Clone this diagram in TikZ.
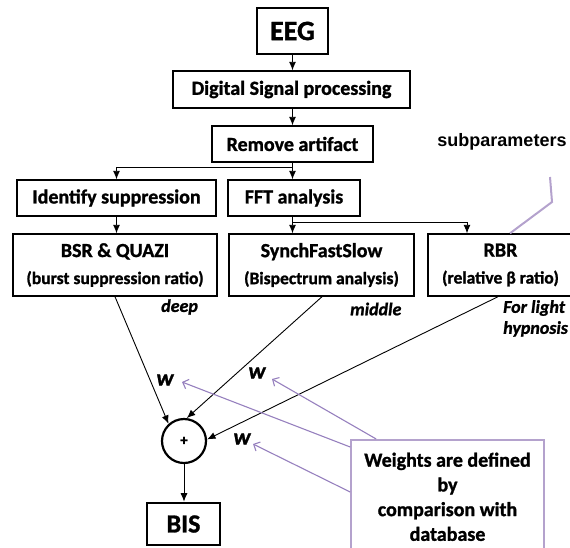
\documentclass[tikz,border=0pt]{standalone}
\usepackage{fontspec}
\setmainfont{Carlito}[BoldFeatures={FakeBold=1.2},BoldItalicFeatures={FakeBold=1.2}]
\newfontfamily\arialfam{Liberation Sans}
\usetikzlibrary{arrows.meta,calc}

\definecolor{lav}{RGB}{150,128,190}
\definecolor{lavlight}{RGB}{180,162,205}
\newcommand\smallline{\fontsize{17.5}{21}\selectfont}

\begin{document}
\begin{tikzpicture}[x=1pt,y=-1pt,
  box/.style={draw,line width=1.4pt,inner sep=0pt,align=center,
    font=\bfseries\fontsize{20}{24}\selectfont},
  heavybox/.style={box,line width=2.6pt},
  flow/.style={line width=0.9pt,-{Latex[length=8.5pt,width=7pt]}},
  wlabel/.style={font=\bfseries\itshape\fontsize{23}{26}\selectfont,inner sep=0pt},
  tag/.style={font=\bfseries\itshape\fontsize{18}{21}\selectfont,inner sep=0pt},
  weightarrow/.style={lav,line width=1.1pt,-{Straight Barb[length=5pt,width=10pt]}},
  callout/.style={lavlight,line width=2pt}
]
\useasboundingbox (0,0) rectangle (570,547);
\clip (0,0) rectangle (570,547);

% processing chain
\node[heavybox,minimum width=71pt,minimum height=46pt,
      font=\bfseries\fontsize{28}{30}\selectfont] (eeg) at (292.5,31) {EEG};
\node[box,minimum width=237pt,minimum height=37pt] (dsp) at (291.5,89.5) {Digital Signal processing};
\node[box,minimum width=161pt,minimum height=36pt] (rem) at (292.5,144) {Remove artifact};
\node[box,minimum width=199pt,minimum height=36pt] (ident) at (116.5,198) {Identify suppression};
\node[box,minimum width=132pt,minimum height=36pt] (fft) at (294,198) {FFT analysis};

% subparameters
\node[box,minimum width=204pt,minimum height=62pt] (bsr) at (115,265)
  {BSR \& QUAZI\\[3pt]{\smallline (burst suppression ratio)}};
\node[box,minimum width=185pt,minimum height=62pt] (synch) at (321.5,265)
  {SynchFastSlow\\[3pt]{\smallline (Bispectrum analysis)}};
\node[box,minimum width=145pt,minimum height=62pt] (rbr) at (500.5,265)
  {RBR\\[3pt]{\smallline (relative β ratio)}};

\node[tag,anchor=west] (deep) at (161,307) {deep};
\node[tag,anchor=west] (middle) at (350,309) {middle};
\node[tag,anchor=north west,align=left] (light) at (503,300) {For light\\hypnosis};

\node[font=\arialfam\bfseries\fontsize{18}{20}\selectfont] (subp) at (502,142) {subparameters};

% summation and index
\node[draw,circle,line width=2.2pt,minimum size=44pt,inner sep=0pt,
      font=\bfseries\fontsize{15}{15}\selectfont] (sum) at (184,441) {+};
\node[heavybox,minimum width=73pt,minimum height=42pt,
      font=\bfseries\fontsize{26}{28}\selectfont] (bis) at (183.5,524) {BIS};

\node[wlabel] (w1) at (165,380) {w};
\node[wlabel] (w2) at (257,373) {w};
\node[wlabel] (w3) at (242,439) {w};

\node[draw=lavlight,line width=1.6pt,anchor=north,minimum width=193pt,minimum height=114pt,
      align=center,font=\bfseries\fontsize{20}{24.7}\selectfont] (wbox) at (447.5,439)
  {Weights are defined\\by\\comparison with\\database};

% connectors
\draw[flow] (eeg.south) -- (eeg.south |- dsp.north);
\draw[flow] (rem.north |- dsp.south) -- (rem.north);
\draw[flow] (rem.south) -- ++(0,5) -| (ident.north);
\draw[flow] (rem.south) -- (rem.south |- fft.north);
\draw[flow] (ident.south) -- (ident.south |- bsr.north);
\draw[flow] (fft.south -| rem.south) -- (rem.south |- synch.north);
\draw[flow] (fft.south -| rem.south) -- ++(0,6) -| ([xshift=-33.5pt]rbr.north);
\draw[flow] (bsr.south) -- (sum.132);
\draw[flow] ([xshift=0.5pt]synch.south) -- (sum.83);
\draw[flow] ([xshift=-2.5pt]rbr.south) -- (sum.4);
\draw[flow] (sum.south) -- (sum.south |- bis.north);

% weight callouts
\draw[weightarrow] ([xshift=26pt]wbox.north west) -- ($(w2)+(15,6)$);
\draw[weightarrow] ($(wbox.north west)+(0,8)$) -- ($(w1)+(17,2)$);
\draw[weightarrow] ($(wbox.north west)+(0,53)$) -- ($(w3)+(11,5)$);

% subparameter callout
\draw[callout] ($(subp)+(48,35)$) -- ($(subp)+(50,60)$) -- ([xshift=9.5pt]rbr.north);
\end{tikzpicture}
\end{document}
